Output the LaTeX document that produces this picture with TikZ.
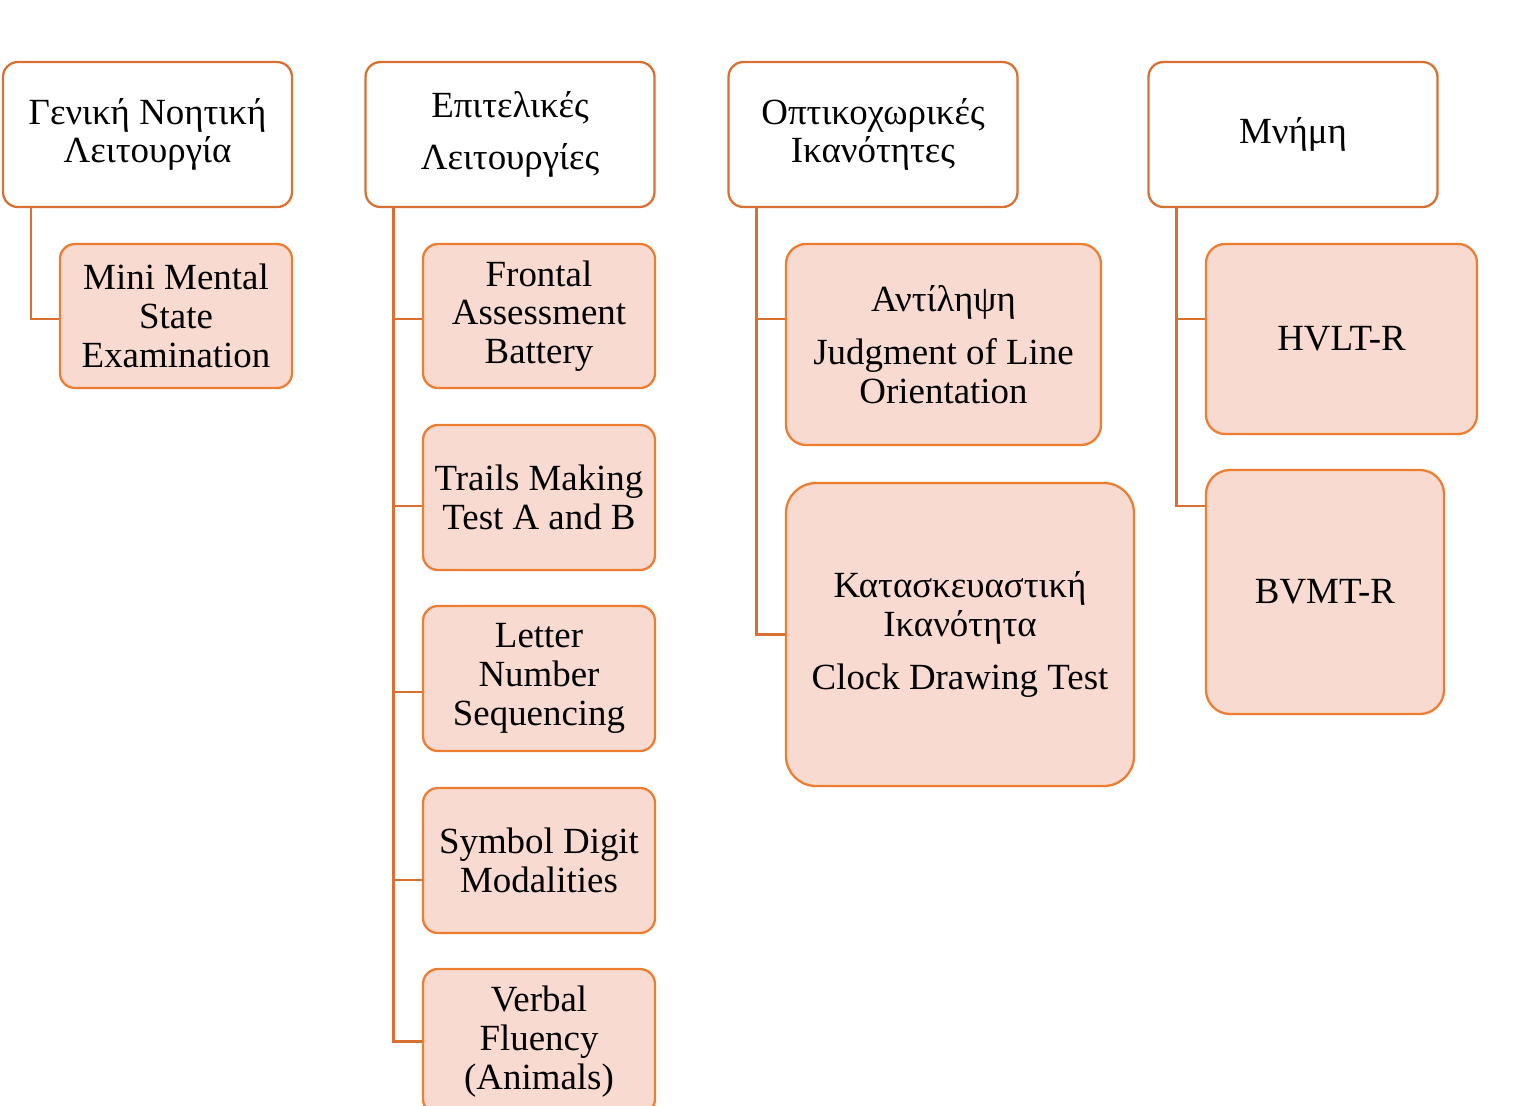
\documentclass[tikz,border=0pt]{standalone}
\usepackage{fontspec}
\setmainfont{Liberation Serif}
\usepackage{tikz}
\usetikzlibrary{positioning, calc}

\definecolor{boxline}{RGB}{237,125,49}
\definecolor{headline}{RGB}{216,112,50}
\definecolor{boxfill}{RGB}{248,218,209}

\begin{document}
\begin{tikzpicture}[
  category/.style={draw=headline, line width=1.3pt, fill=white, rounded corners=0.3cm, minimum width=5.78cm, minimum height=2.9cm, align=center, font=\fontsize{21}{22}\selectfont},
  test/.style={draw=boxline, line width=1.3pt, fill=boxfill, rounded corners=0.3cm, align=center, inner sep=0pt, font=\fontsize{21}{22}\selectfont},
  conn/.style={draw=headline, line width=1.3pt}
]
\useasboundingbox (0,0) rectangle (30.62,-22.1);

% Domains
\node[category] (gen) at (2.95, -2.69) {Γενική Νοητική\\Λειτουργία};
\node[category] (exe) at (10.2, -2.69) {Επιτελικές\\[8pt]Λειτουργίες};
\node[category] (vis) at (17.46, -2.69) {Οπτικοχωρικές\\Ικανότητες};
\node[category] (mem) at (25.86, -2.69) {Μνήμη};

% --- General cognition ---
\node[test, minimum width=4.64cm, minimum height=2.88cm] (mmse) at (3.52, -6.32) {Mini Mental\\State\\Examination};

% --- Executive functions ---
\node[test, minimum width=4.64cm, minimum height=2.88cm] (fab) at (10.78, -6.32) {Frontal\\Assessment\\Battery};
\node[test, minimum width=4.64cm, minimum height=2.9cm] (tmt) at (10.78, -9.95) {Trails Making\\Test A and B};
\node[test, minimum width=4.64cm, minimum height=2.9cm] (lns) at (10.78, -13.57) {Letter\\Number\\Sequencing};
\node[test, minimum width=4.64cm, minimum height=2.9cm] (sdm) at (10.78, -17.21) {Symbol Digit\\Modalities};
\node[test, minimum width=4.64cm, minimum height=2.9cm] (vf) at (10.78, -20.83) {Verbal\\Fluency\\(Animals)};

% --- Visuospatial abilities ---
\node[test, minimum width=6.3cm, minimum height=4.02cm, rounded corners=0.4cm] (jlo) at (18.87, -6.89) {Αντίληψη\\[8pt]Judgment of Line\\Orientation};
\node[test, minimum width=6.96cm, minimum height=6.06cm, rounded corners=0.6cm] (cdt) at (19.2, -12.69) {Κατασκευαστική\\Ικανότητα\\[8pt]Clock Drawing Test};

% --- Memory ---
\node[test, minimum width=5.42cm, minimum height=3.8cm, rounded corners=0.38cm] (hvlt) at (26.83, -6.78) {HVLT-R};
\node[test, minimum width=4.76cm, minimum height=4.88cm, rounded corners=0.48cm] (bvmt) at (26.5, -11.84) {BVMT-R};

% --- Connectors ---
\draw[conn] ([xshift=0.58cm]gen.south west) |- ([yshift=-0.06cm]mmse.west);

\draw[conn] ([xshift=0.58cm]exe.south west) |- ([yshift=-0.06cm]fab.west);
\draw[conn] ([xshift=0.58cm]exe.south west) |- ([yshift=-0.17cm]tmt.west);
\draw[conn] ([xshift=0.58cm]exe.south west) |- ([yshift=-0.27cm]lns.west);
\draw[conn] ([xshift=0.58cm]exe.south west) |- ([yshift=-0.39cm]sdm.west);
\draw[conn] ([xshift=0.58cm]exe.south west) |- (vf.west);

\draw[conn] ([xshift=0.58cm]vis.south west) |- ([yshift=0.51cm]jlo.west);
\draw[conn] ([xshift=0.58cm]vis.south west) |- (cdt.west);

\draw[conn] ([xshift=0.58cm]mem.south west) |- ([yshift=0.4cm]hvlt.west);
\draw[conn] ([xshift=0.58cm]mem.south west) |- ([yshift=1.72cm]bvmt.west);

\end{tikzpicture}
\end{document}
